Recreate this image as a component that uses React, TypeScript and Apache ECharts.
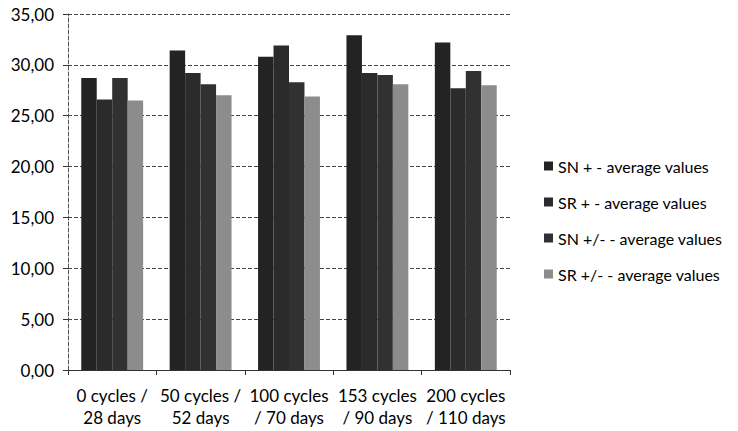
import React, { useEffect, useRef } from "react";
import * as echarts from "echarts";

const categories = [
  "0 cycles /\n28 days",
  "50 cycles /\n52 days",
  "100 cycles\n/ 70 days",
  "153 cycles\n/ 90 days",
  "200 cycles\n/ 110 days",
];
const seriesNames = [
  "SN + - average values",
  "SR + - average values",
  "SN +/- - average values",
  "SR +/- - average values",
];
const snPlus = [28.7, 31.4, 30.8, 32.9, 32.2];
const srPlus = [26.6, 29.2, 31.9, 29.2, 27.7];
const snPm = [28.7, 28.1, 28.3, 29.0, 29.4];
const srPm = [26.5, 27.0, 26.9, 28.1, 28.0];
const colors = ["#232323", "#2b2b2b", "#313131", "#8c8c8c"];

export default function App() {
  const ref = useRef<HTMLDivElement>(null);
  useEffect(() => {
    if (!ref.current) return;
    const chart = echarts.init(ref.current, null, { renderer: "svg" });
    const values = [snPlus, srPlus, snPm, srPm];
    chart.setOption({
      animation: false,
      backgroundColor: "#ffffff",
      textStyle: { fontFamily: "Lato" },
      grid: { left: 68, right: 228, top: 14, bottom: 61, containLabel: false },
      legend: {
        orient: "vertical",
        left: 539,
        top: 153,
        itemWidth: 9,
        itemHeight: 9,
        itemGap: 20,
        icon: "rect",
        textStyle: { fontSize: 16, color: "#000", fontFamily: "Lato" },
        data: seriesNames,
      },
      xAxis: {
        type: "category",
        data: categories,
        axisLine: { lineStyle: { color: "#333", width: 1 } },
        axisTick: { show: true, lineStyle: { color: "#333" } },
        axisLabel: {
          fontSize: 17,
          color: "#000",
          lineHeight: 22,
          margin: 14,
          interval: 0,
          fontFamily: "Lato",
        },
      },
      yAxis: {
        type: "value",
        min: 0,
        max: 35,
        interval: 5,
        axisLine: { show: true, lineStyle: { color: "#555", type: "dashed", width: 1 } },
        axisTick: { show: true, length: 5, lineStyle: { color: "#333" } },
        axisLabel: {
          fontSize: 17,
          color: "#000",
          margin: 14,
          fontFamily: "Lato",
          formatter: (v: number) => v.toFixed(2).replace(".", ","),
        },
        splitLine: { lineStyle: { color: "#444", type: "dashed", width: 1 } },
      },
      series: seriesNames.map((name, i) => ({
        name,
        type: "bar",
        data: values[i],
        barGap: "0%",
        barCategoryGap: "30%",
        itemStyle: { color: colors[i] },
      })),
    });
    return () => chart.dispose();
  }, []);
  return (
    <div
      ref={ref}
      style={{ position: "absolute", left: 0, top: 0, width: 738, height: 431 }}
    />
  );
}
